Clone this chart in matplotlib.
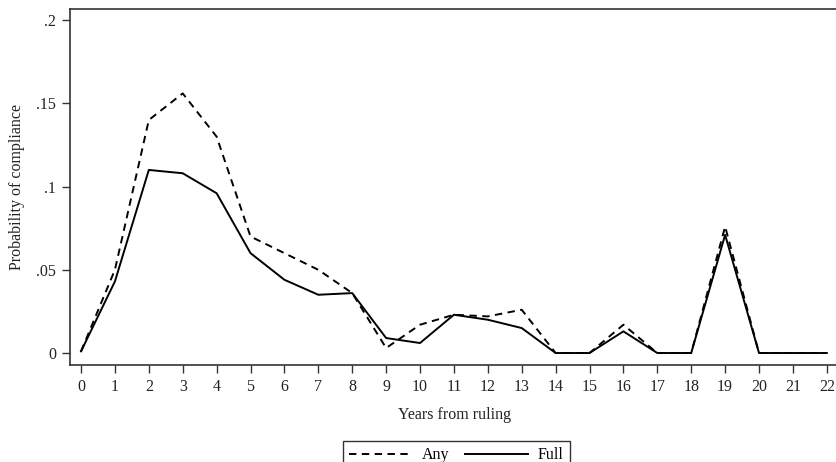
import matplotlib
matplotlib.use("Agg")
import matplotlib.pyplot as plt

years = list(range(0, 23))
any_vals = [0.001, 0.050, 0.140, 0.156, 0.130, 0.070, 0.060, 0.050, 0.036, 0.003,
            0.017, 0.023, 0.022, 0.026, 0.000, 0.000, 0.017, 0.000, 0.000, 0.076,
            0.000, 0.000, 0.000]
full_vals = [0.001, 0.043, 0.110, 0.108, 0.096, 0.060, 0.044, 0.035, 0.036, 0.009,
             0.006, 0.023, 0.020, 0.015, 0.000, 0.000, 0.013, 0.000, 0.000, 0.071,
             0.000, 0.000, 0.000]
y_ticks = [0, 0.05, 0.1, 0.15, 0.2]
y_tick_labels = ["0", ".05", ".1", ".15", ".2"]

plt.rcParams['font.family'] = ['Liberation Serif', 'DejaVu Serif']

W, H = 836, 462
fig = plt.figure(figsize=(W / 100, H / 100), dpi=100)
left, right, top, bottom = 70, 838, 9, 365
ax = fig.add_axes([left / W, 1 - bottom / H, (right - left) / W, (bottom - top) / H])

ax.plot(years, any_vals, color='black', lw=1.4, linestyle=(0, (3.8, 2.8)), label='Any')
ax.plot(years, full_vals, color='black', lw=1.4, linestyle='-', label='Full')

ax.set_xlim(-0.325, 22.33)
ax.set_ylim(-0.0072, 0.2067)
ax.set_xticks(years)
ax.set_xticklabels([str(y) for y in years])
ax.set_yticks(y_ticks)
ax.set_yticklabels(y_tick_labels)

for s in ['left', 'bottom', 'top']:
    ax.spines[s].set_color('#333333')
    ax.spines[s].set_linewidth(1.2)
ax.spines['right'].set_visible(False)
ax.tick_params(axis='both', direction='out', length=6, width=1.0, color='#333333',
               labelsize=11.5, labelcolor='#222222', pad=4)

ax.set_xlabel('Years from ruling', fontsize=11.5, color='#222222', labelpad=9)
ax.set_ylabel('Probability of compliance', fontsize=11.5, color='#222222', labelpad=8)

leg = fig.legend(loc='upper left', bbox_to_anchor=(343 / W, 1 - 441 / H), ncol=2,
                 fancybox=False, frameon=True, edgecolor='black', fontsize=11.5,
                 handlelength=3.95, handletextpad=0.6, columnspacing=0.95,
                 borderaxespad=0, borderpad=0.4)
leg.get_frame().set_linewidth(1.0)

fig.savefig('out.png', dpi=100)
